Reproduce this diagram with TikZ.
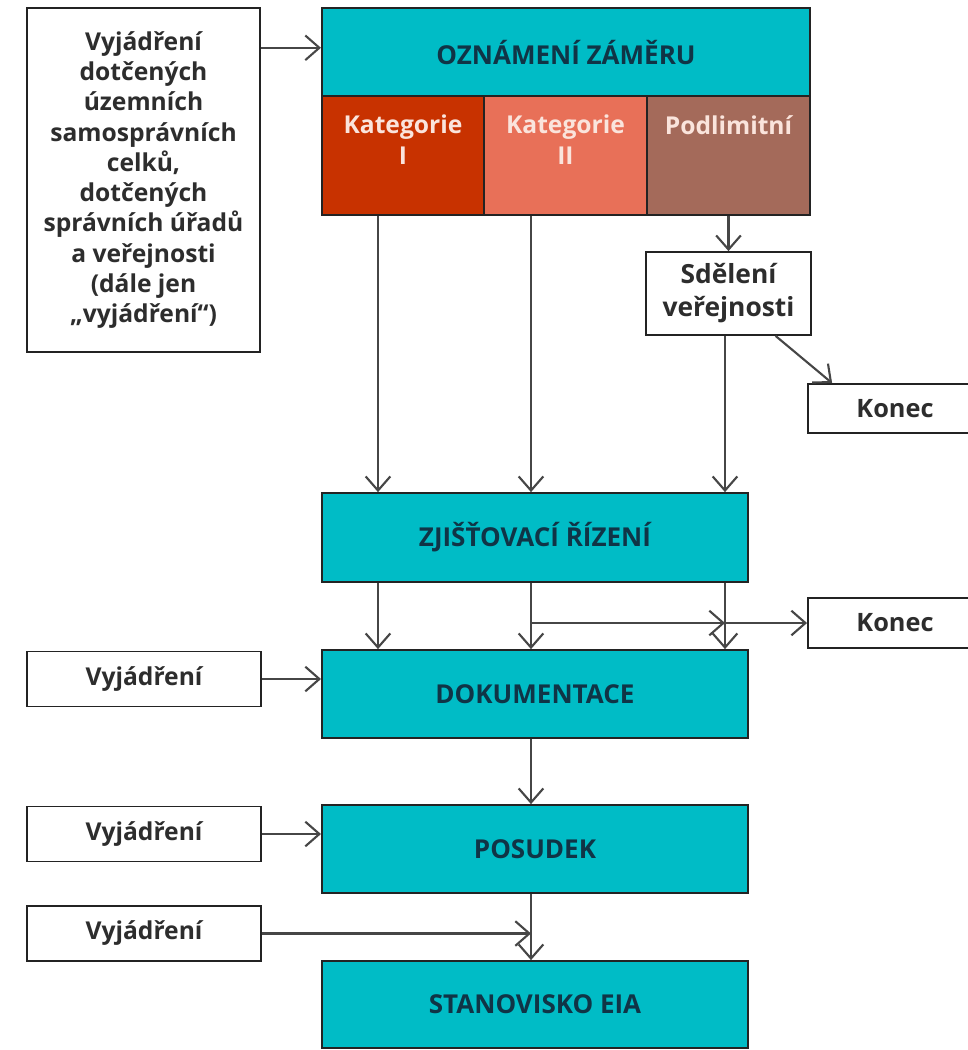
\documentclass[tikz,border=0pt]{standalone}
\usepackage{fontspec}
\setmainfont{Open Sans}
\usetikzlibrary{arrows.meta}
\definecolor{tyrkys}{RGB}{0,188,198}
\definecolor{katjedna}{RGB}{200,50,0}
\definecolor{katdva}{RGB}{232,112,88}
\definecolor{podlim}{RGB}{164,106,90}
\definecolor{tmava}{RGB}{16,52,70}
\definecolor{seda}{RGB}{45,45,45}
\definecolor{svetla}{RGB}{250,228,220}
\definecolor{okraj}{RGB}{35,35,35}
\definecolor{sipka}{RGB}{70,70,70}
\begin{document}
\begin{tikzpicture}[x=0.01cm,y=-0.01cm,
		krok/.style={draw=okraj,line width=0.5pt,fill=tyrkys,text=tmava,minimum width=4.26cm,minimum height=0.88cm,font=\fontsize{7.4}{8.8}\selectfont\bfseries},
		bilybox/.style={draw=okraj,line width=0.5pt,fill=white,text=seda,align=center,font=\fontsize{7}{8.6}\selectfont\bfseries},
		malybox/.style={bilybox,minimum width=2.34cm,minimum height=0.55cm},
		konecbox/.style={bilybox,minimum width=1.74cm,minimum height=0.49cm,font=\fontsize{7.2}{9}\selectfont\bfseries},
		katbox/.style={draw=okraj,line width=0.5pt,minimum width=1.62cm,minimum height=1.19cm},
		kattext/.style={text=svetla,align=center,anchor=north,yshift=-2.2pt,font=\fontsize{7}{8.6}\selectfont\bfseries},
		sip/.style={draw=sipka,line width=0.6pt,-{Straight Barb[length=4pt,width=7pt]}}]
	\useasboundingbox (0,0) rectangle (968,1050);
	\clip (0,0) rectangle (968,1050);
	\node[bilybox,minimum width=2.33cm,minimum height=3.44cm] (vyj) at (143.5,180) {Vyjádření\\dotčených\\územních\\samosprávních\\celků,\\dotčených\\správních úřadů\\a veřejnosti\\(dále jen\\„vyjádření“)};
	\node[krok,minimum width=4.88cm] (ozn) at (566,52) {OZNÁMENÍ ZÁMĚRU};
	\node[katbox,fill=katjedna,label={[kattext]north:Kategorie\\I}] (kat1) at (403,155.5) {};
	\node[katbox,fill=katdva,minimum width=1.63cm,label={[kattext]north:Kategorie\\II}] (kat2) at (565.5,155.5) {};
	\node[katbox,fill=podlim,minimum width=1.63cm,label={[kattext]north:Podlimitní}] (pod) at (728.5,155.5) {};
	\node[bilybox,minimum width=1.65cm,minimum height=0.79cm,font=\fontsize{7.5}{9.4}\selectfont\bfseries] (sdel) at (728.5,293.5) {Sdělení\\veřejnosti};
	\node[konecbox] (konec1) at (895,408.5) {Konec};
	\node[krok,minimum height=0.89cm] (zjist) at (535,537.5) {ZJIŠŤOVACÍ ŘÍZENÍ};
	\node[konecbox,minimum height=0.5cm] (konec2) at (895,623) {Konec};
	\node[krok] (dok) at (535,694) {DOKUMENTACE};
	\node[malybox] (vyj1) at (144,679) {Vyjádření};
	\node[krok] (pos) at (535,849) {POSUDEK};
	\node[malybox] (vyj2) at (144,834) {Vyjádření};
	\node[malybox] (vyj3) at (144,933.5) {Vyjádření};
	\node[krok,minimum height=0.87cm] (stan) at (535,1004.5) {STANOVISKO EIA};
	\coordinate (sloupA) at (378,0);
	\coordinate (sloupB) at (531,0);
	\coordinate (sloupC) at (725,0);
	\coordinate (vstup) at ([yshift=1.2pt]ozn.west);
	\draw[sip] (vyj.east |- vstup) -- (vstup);
	\draw[sip] (kat1.south -| sloupA) -- (zjist.north -| sloupA);
	\draw[sip] (kat2.south -| sloupB) -- (zjist.north -| sloupB);
	\draw[sip] (pod.south) -- (sdel.north);
	\draw[sip] (sdel.south -| sloupC) -- (zjist.north -| sloupC);
	\draw[sip] (sdel.-42) -- (konec1.158);
	\foreach \s in {sloupA,sloupB,sloupC}
		\draw[sip] (zjist.south -| \s) -- (dok.north -| \s);
	\coordinate (odboc) at (sloupB |- konec2.west);
	\draw[sip] (odboc) -- (odboc -| sloupC);
	\draw[sip] (odboc -| sloupC) -- (konec2.west);
	\draw[sip] (vyj1.east) -- (vyj1.east -| dok.west);
	\draw[sip] (dok.south -| sloupB) -- (pos.north -| sloupB);
	\draw[sip] (vyj2.east) -- (vyj2.east -| pos.west);
	\draw[sip] (pos.south -| sloupB) -- (stan.north -| sloupB);
	\draw[sip] (vyj3.east) -- (vyj3.east -| sloupB);
\end{tikzpicture}
\end{document}
